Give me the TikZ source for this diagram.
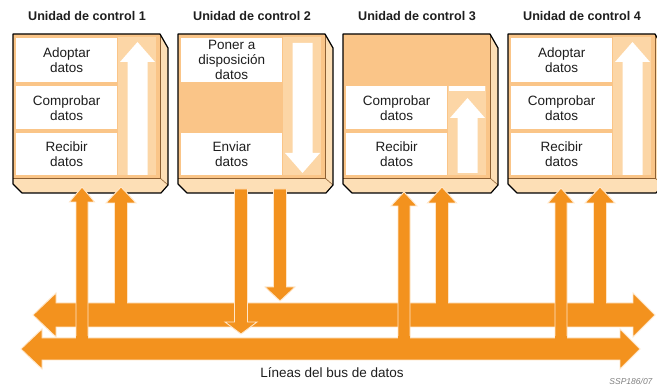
\documentclass[tikz,border=0pt]{standalone}
\usepackage{fontspec}
\setmainfont{Liberation Sans}
\definecolor{busor}{RGB}{243,146,30}
\definecolor{busline}{RGB}{255,230,200}
\definecolor{facec}{RGB}{250,197,136}
\definecolor{colc}{RGB}{252,214,166}
\definecolor{bevelc}{RGB}{253,223,182}
\definecolor{edgec}{RGB}{140,95,50}
\definecolor{txtc}{RGB}{30,30,30}
\tikzset{
  busarrow/.style={fill=busor, draw=busline, line width=0.9pt, line join=miter},
  panel/.style={fill=white, inner sep=0pt, anchor=north west, minimum width=101pt,
     align=center, text=txtc, font=\fontsize{13.5}{15}\selectfont},
  title/.style={font=\bfseries\fontsize{12.6}{14}\selectfont, text=txtc, anchor=base},
}
% control unit slab: #1 = left x
\newcommand\ecuslab[1]{%
  \fill[bevelc] (#1,34) -- (#1+147,34) -- (#1+155,48) -- (#1+155,185) -- (#1+148,193) -- (#1+9,193) -- (#1,184) -- cycle;
  \fill[facec] (#1,34) rectangle (#1+147,178);
  \draw[edgec, line width=0.6pt] (#1+147,34) -- (#1+147,178) -- (#1,178);
  \draw[edgec, line width=0.6pt] (#1+147,178) -- (#1+155,185);
  \draw[black, line width=1.2pt, line join=round] (#1,34) -- (#1+147,34) -- (#1+155,48) -- (#1+155,185) -- (#1+148,193) -- (#1+9,193) -- (#1,184) -- cycle;
}
% up block arrow joining a bus: cx, tip y, head base y, bottom y, half shaft, half head
\newcommand\upblk[6]{%
  \filldraw[busarrow] (#1-#5,#4) -- (#1-#5,#3) -- (#1-#6,#3) -- (#1,#2) -- (#1+#6,#3) -- (#1+#5,#3) -- (#1+#5,#4);
  \fill[busor] (#1-#5+0.45,#4-1.5) rectangle (#1+#5-0.45,#4+3);
}
% down block arrow: cx, top y, head base y, tip y, half shaft, half head
\newcommand\downblk[6]{%
  \filldraw[busarrow] (#1-#5,#2) -- (#1-#5,#3) -- (#1-#6,#3) -- (#1,#4) -- (#1+#6,#3) -- (#1+#5,#3) -- (#1+#5,#2) -- cycle;
}
\begin{document}
\begin{tikzpicture}[x=1pt,y=-1pt]
\useasboundingbox (0,0) rectangle (657,387);
\fill[white] (0,0) rectangle (657,387);

% ---------- titles ----------
\node[title] (t1) at (87,21) {Unidad de control 1};
\node[title] (t2) at (252,21) {Unidad de control 2};
\node[title] (t3) at (417,21) {Unidad de control 3};
\node[title] (t4) at (582,21) {Unidad de control 4};

% ---------- unit 1 ----------
\ecuslab{13}
\fill[colc] (13+105,37) rectangle (13+143,175);
\node[panel, minimum height=44pt] (u1a) at (16,38) {Adoptar\\datos};
\node[panel, minimum height=43pt] (u1b) at (16,86) {Comprobar\\datos};
\node[panel, minimum height=42pt] (u1c) at (16,133) {Recibir\\datos};
\fill[white] (13+114.5,175) -- (13+114.5,62) -- (13+107,62) -- (13+124.5,42) -- (13+142,62) -- (13+134.5,62) -- (13+134.5,175) -- cycle;

% ---------- unit 2 ----------
\ecuslab{178}
\fill[colc] (178+105,37) rectangle (178+143,175);
\node[panel, minimum height=44pt] (u2a) at (181,38) {Poner a\\disposición\\datos};
\node[panel, minimum height=42pt] (u2c) at (181,133) {Enviar\\datos};
\fill[white] (178+114.5,43) -- (178+114.5,153) -- (178+107,153) -- (178+124.5,173) -- (178+142,153) -- (178+134.5,153) -- (178+134.5,43) -- cycle;

% ---------- unit 3 ----------
\ecuslab{343}
\fill[colc] (343+105,86) rectangle (343+143,175);
\node[panel, minimum height=43pt] (u3b) at (346,86) {Comprobar\\datos};
\node[panel, minimum height=42pt] (u3c) at (346,133) {Recibir\\datos};
\fill[white] (343+106,86) rectangle (343+142,91);
\fill[white] (343+114.5,173) -- (343+114.5,118) -- (343+107,118) -- (343+124.5,98) -- (343+142,118) -- (343+134.5,118) -- (343+134.5,173) -- cycle;

% ---------- unit 4 ----------
\ecuslab{508}
\fill[colc] (508+105,37) rectangle (508+143,175);
\node[panel, minimum height=44pt] (u4a) at (511,38) {Adoptar\\datos};
\node[panel, minimum height=43pt] (u4b) at (511,86) {Comprobar\\datos};
\node[panel, minimum height=42pt] (u4c) at (511,133) {Recibir\\datos};
\fill[white] (508+114.5,175) -- (508+114.5,62) -- (508+107,62) -- (508+124.5,42) -- (508+142,62) -- (508+134.5,62) -- (508+134.5,175) -- cycle;

% ---------- buses ----------
% lower bus
\filldraw[busarrow] (21,349) -- (42,329) -- (42,338) -- (620,338) -- (620,329) -- (640,349) -- (620,369) -- (620,360) -- (42,360) -- (42,369) -- cycle;
% upper bus
\filldraw[busarrow] (33,315) -- (56,293) -- (56,303) -- (633,303) -- (633,293) -- (655,315) -- (633,337) -- (633,327) -- (56,327) -- (56,337) -- cycle;

% ---------- vertical arrows ----------
% into upper bus
\upblk{121}{187}{203}{303}{6.5}{15}
\downblk{280}{189}{287}{301}{6.5}{15}
\upblk{442}{187}{203}{303}{6.5}{14.5}
\upblk{600}{187}{203}{303}{6.5}{15}
% into lower bus
\upblk{82}{187}{202}{338}{6}{12.5}
\downblk{241}{189}{322}{334}{6.5}{16}
\upblk{404}{192}{206}{338}{6}{13}
\upblk{561}{188}{203}{338}{6}{13}

% ---------- labels ----------
\node[font=\fontsize{13.5}{16}\selectfont, text=txtc] (bus) at (332,373) {Líneas del bus de datos};
\node[anchor=east, font=\itshape\fontsize{8.5}{10}\selectfont, text=gray] (ref) at (656,381) {SSP186/07};
\end{tikzpicture}
\end{document}
